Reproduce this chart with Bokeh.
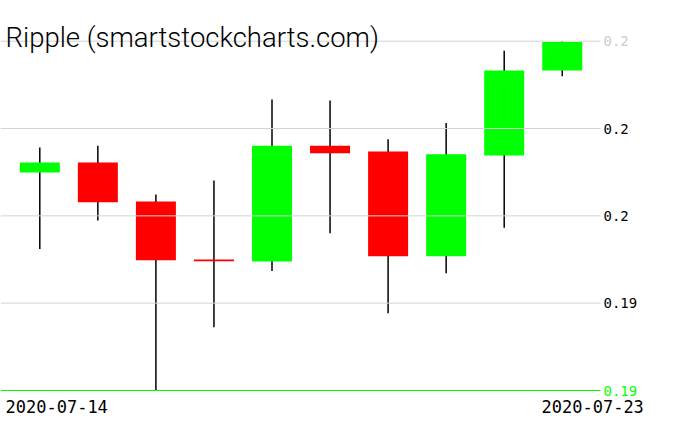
from bokeh.plotting import figure
from bokeh.models import Range1d, Label, ColumnDataSource
from bokeh.core.properties import value
from bokeh.embed import file_html
from bokeh.resources import INLINE

# ---- data ----
dates = ["2020-07-14", "2020-07-15", "2020-07-16", "2020-07-17", "2020-07-18",
         "2020-07-19", "2020-07-20", "2020-07-21", "2020-07-22", "2020-07-23"]
open_ = [0.19624, 0.19653, 0.19541, 0.19375, 0.19369, 0.19701, 0.19684, 0.19384, 0.19673, 0.19916]
high = [0.19696, 0.19701, 0.19561, 0.19601, 0.19833, 0.19830, 0.19719, 0.19766, 0.19973, 0.20000]
low = [0.19405, 0.19487, 0.19000, 0.19181, 0.19342, 0.19450, 0.19221, 0.19336, 0.19466, 0.19900]
close = [0.19653, 0.19539, 0.19373, 0.19370, 0.19701, 0.19679, 0.19384, 0.19676, 0.19916, 0.19998]

tick_values = [0.2000, 0.1975, 0.1950, 0.1925, 0.1900]
tick_labels = ["0.2", "0.2", "0.2", "0.19", "0.19"]
title_text = "Ripple (smartstockcharts.com)"

# ---- layout helpers (pixel -> data) ----
W, H = 676, 431
X0_PX, DX_PX = 39.3, 58.05           # first candle centre, spacing
YTOP_PX, YBOT_PX = 40.7, 390.0        # pixel rows of max / min tick
ymax, ymin = max(tick_values), min(tick_values)

def xd(px):
    return (px - X0_PX) / DX_PX

def yd(py):
    return ymin + (YBOT_PX - py) / (YBOT_PX - YTOP_PX) * (ymax - ymin)

idx = list(range(len(dates)))
up = [c >= o for o, c in zip(open_, close)]
src = ColumnDataSource(dict(
    x=idx,
    high=high,
    low=low,
    top=[max(o, c) for o, c in zip(open_, close)],
    bottom=[min(o, c) for o, c in zip(open_, close)],
    color=["#00ff00" if u else "#ff0000" for u in up],
))

p = figure(width=W, height=H, output_backend="svg", toolbar_location=None,
           x_range=Range1d(xd(0), xd(W)), y_range=Range1d(yd(H), yd(0)),
           x_axis_type=None, y_axis_type=None, min_border=0)
p.outline_line_color = None
p.background_fill_color = "white"
p.border_fill_color = "white"

# wicks
p.segment(x0="x", y0="low", x1="x", y1="high", source=src,
          line_color="black", line_width=1.5)
# bodies
p.vbar(x="x", width=40 / DX_PX, top="top", bottom="bottom", source=src,
       fill_color="color", line_color=None)

# grid lines
grid_colors = ["#d3d3d3"] * (len(tick_values) - 1) + ["#00ff00"]
p.segment(x0=[xd(0)] * len(tick_values), x1=[xd(600)] * len(tick_values),
          y0=tick_values, y1=tick_values, line_color=grid_colors, line_width=1)

# tick labels
label_colors = ["#cccccc"] + ["black"] * (len(tick_values) - 2) + ["#00ff00"]
p.text(x=[xd(603)] * len(tick_values), y=tick_values, text=tick_labels,
       text_font=value("DejaVu Sans Mono"), text_font_size="14px",
       text_baseline="alphabetic", text_align="left", text_color=label_colors)

# date labels
p.text(x=[xd(5), xd(541)], y=[yd(406), yd(406)], text=[dates[0], dates[-1]],
       text_font=value("DejaVu Sans Mono"), text_font_size="17px",
       text_baseline="alphabetic", text_align="left", text_color="black")

# title
p.add_layout(Label(x=xd(5), y=yd(37), text=title_text,
                   text_font="Roboto Light", text_font_size="27.5px",
                   text_baseline="alphabetic", text_align="left",
                   text_color="black"))

open("out.html", "w").write(file_html(p, INLINE))
